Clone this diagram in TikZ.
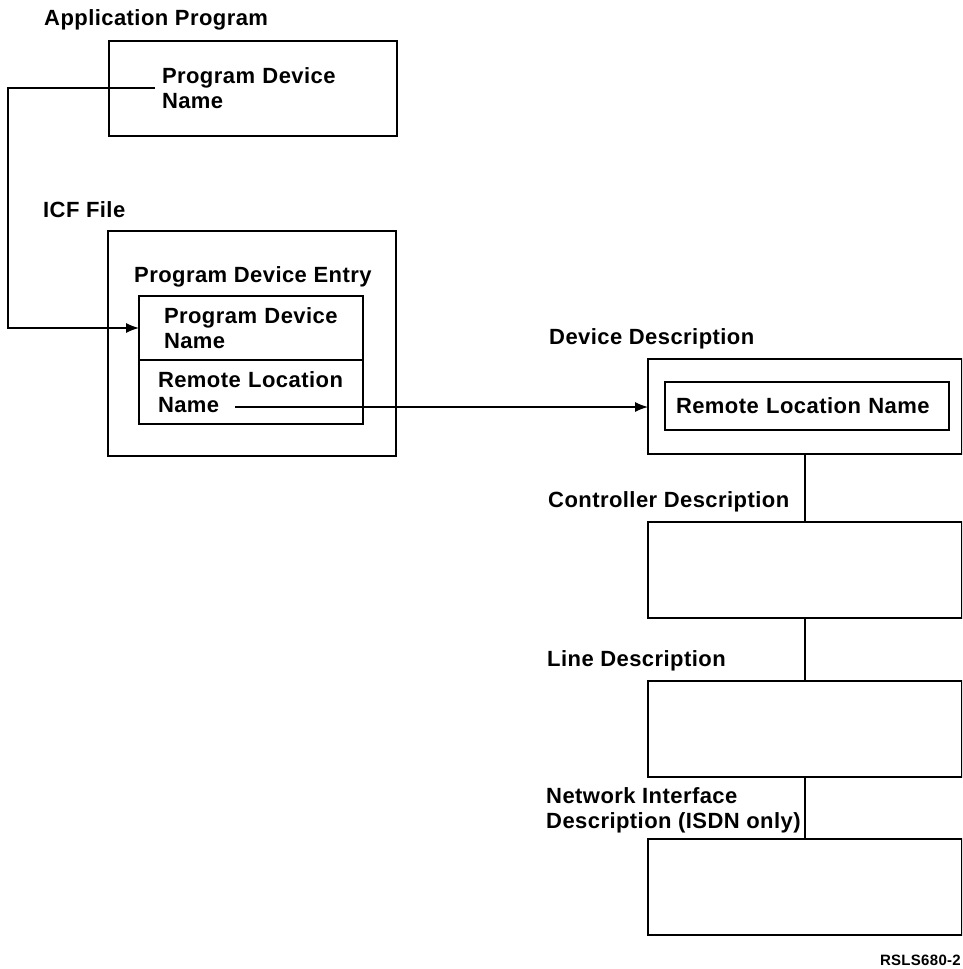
\documentclass[tikz,border=0pt]{standalone}
\usepackage{fontspec}
\setmainfont[LetterSpace=2]{Liberation Sans}
\usetikzlibrary{arrows.meta}

\begin{document}
\begin{tikzpicture}[x=1pt,y=-1pt,
  box/.style={draw,line width=1.6pt,outer sep=0pt,anchor=north west,
    font=\bfseries\fontsize{22}{25}\selectfont,align=left},
  lbl/.style={inner sep=0pt,anchor=base west,
    font=\bfseries\fontsize{22}{25}\selectfont,align=left},
  link/.style={line width=1.3pt},
  linkto/.style={link,-{Latex[length=13pt,width=10pt]}}]

% Page size; the right-hand boxes run off the edge
\path[use as bounding box] (0,0) rectangle (962,969);
\clip (0,0) rectangle (962,969);

% Define coordinates for the connector ends
\coordinate (appout) at (155,88);
\coordinate (lft) at (8,0);
\coordinate (rlout) at (235,407);

% Application program
\node[lbl] (applbl) at (44,25) {Application Program};
\node[box,minimum width=288pt,minimum height=95pt,
  inner xsep=53pt,text width=182pt] (app) at (109,41) {Program Device\\Name};

% ICF file
\node[lbl] (icflbl) at (43,217) {ICF File};
\node[box,minimum width=288pt,minimum height=225pt] (icf) at (108,231) {};
\node[lbl] (entrylbl) at (134,282) {Program Device Entry};
\node[box,minimum width=224pt,minimum height=64pt,
  inner xsep=25pt,text width=174pt] (pdbox) at (139,296) {Program Device\\Name};
\node[box,minimum width=224pt,minimum height=64pt,
  inner xsep=19pt,text width=186pt] (rlbox) at (139,360) {Remote Location\\Name};

% Description chain
\node[lbl] (devlbl) at (549,344) {Device Description};
\node[box,minimum width=314pt,minimum height=95pt] (devdesc) at (648,359) {};
\node[box,minimum width=284pt,minimum height=48pt,
  inner xsep=11pt,text width=262pt] (rlname) at (665,382) {Remote Location Name};

\node[lbl] (ctllbl) at (548,507) {Controller Description};
\node[box,minimum width=314pt,minimum height=96pt] (ctl) at (648,522) {};

\node[lbl] (linelbl) at (547,666) {Line Description};
\node[box,minimum width=314pt,minimum height=96pt] (line) at (648,681) {};

\node[lbl,anchor=north west] (nilbl) at (546,787) {Network Interface\\Description (ISDN only)};
\node[box,minimum width=314pt,minimum height=96pt] (ni) at (648,839) {};

% Draw the connectors
\draw[linkto] (appout) -- (appout -| lft) |- (pdbox.west);
\draw[linkto] (rlout) -- (rlout -| devdesc.west);
\draw[link] (devdesc.south) -- (ctl.north);
\draw[link] (ctl.south) -- (line.north);
\draw[link] (line.south) -- (ni.north);

% Figure number
\node[inner sep=0pt,anchor=base east,font=\bfseries\fontsize{15}{18}\selectfont]
  (fignum) at (961,965) {RSLS680-2};
\end{tikzpicture}
\end{document}
